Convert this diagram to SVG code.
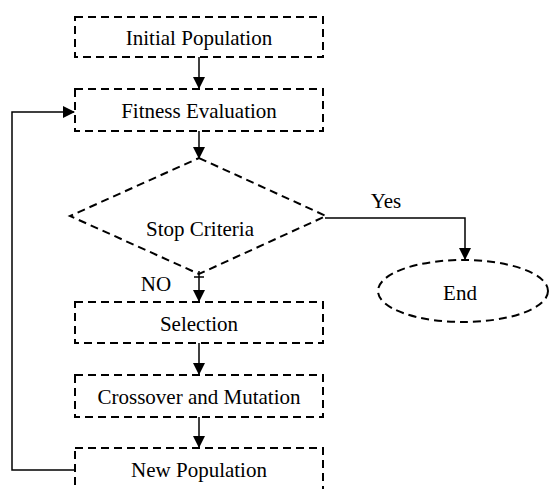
<svg xmlns="http://www.w3.org/2000/svg" width="550" height="489" viewBox="0 0 550 489">
<style>
.n{fill:none;stroke:#000;stroke-width:2;stroke-dasharray:8,5}
.c{fill:none;stroke:#000;stroke-width:1.5}
.t{font-family:'Times New Roman','Liberation Serif',serif;font-size:21px;fill:#000;text-anchor:middle}
</style>
<defs>
<marker id="ah" markerWidth="12" markerHeight="12" refX="11" refY="6" orient="auto" markerUnits="userSpaceOnUse">
<path d="M0,0 L12,6 L0,12 Z" fill="#000"/>
</marker>
</defs>
<rect width="550" height="489" fill="#fff"/>
<g id="connectors">
<line class="c" x1="199" y1="57" x2="199" y2="88" marker-end="url(#ah)"/>
<line class="c" x1="199" y1="131" x2="199" y2="158" marker-end="url(#ah)"/>
<line class="c" x1="199" y1="271" x2="199" y2="301" marker-end="url(#ah)"/>
<line class="c" x1="194" y1="277" x2="204" y2="277"/>
<line class="c" x1="199" y1="343" x2="199" y2="374" marker-end="url(#ah)"/>
<line class="c" x1="199" y1="417" x2="199" y2="447" marker-end="url(#ah)"/>
<polyline class="c" points="325,218 465,218 465,259" marker-end="url(#ah)"/>
<polyline class="c" points="75,470 12,470 12,112 74,112" marker-end="url(#ah)"/>
<text class="t" x="386" y="208">Yes</text>
<text class="t" x="156" y="291">NO</text>
</g>
<g id="initial">
<rect class="n" x="75" y="17" width="248" height="40"/>
<text class="t" x="199" y="45">Initial Population</text>
</g>
<g id="fitness">
<rect class="n" x="75" y="89" width="248" height="42"/>
<text class="t" x="199" y="118">Fitness Evaluation</text>
</g>
<g id="stop">
<polygon class="n" points="199,158 326,216 199,274 70,216"/>
<text class="t" x="200" y="236">Stop Criteria</text>
</g>
<g id="end">
<ellipse class="n" cx="463" cy="291" rx="85" ry="31"/>
<text class="t" x="460" y="300">End</text>
</g>
<g id="selection">
<rect class="n" x="75" y="302" width="248" height="41"/>
<text class="t" x="199" y="331">Selection</text>
</g>
<g id="crossover">
<rect class="n" x="75" y="375" width="248" height="42"/>
<text class="t" x="199" y="404">Crossover and Mutation</text>
</g>
<g id="newpop">
<rect class="n" x="75" y="448" width="248" height="50"/>
<text class="t" x="199" y="477">New Population</text>
</g>
</svg>
